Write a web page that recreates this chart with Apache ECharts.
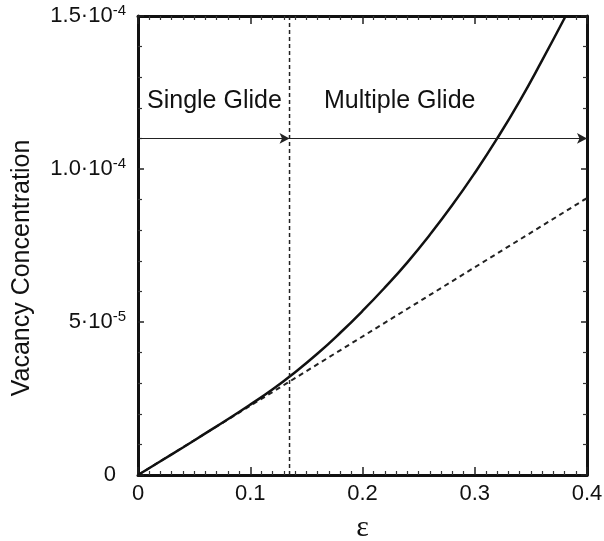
<!DOCTYPE html>
<html>
<head>
<meta charset="utf-8">
<script src="https://cdn.jsdelivr.net/npm/echarts@6/dist/echarts.min.js"></script>
<style>
  html, body { margin: 0; padding: 0; background: #fff; }
  #chart { width: 604px; height: 541px; }
</style>
</head>
<body>
<div id="chart"></div>
<script>
// strain values and vacancy concentration (units of 1e-5)
const strain = [0, 0.02, 0.04, 0.06, 0.08, 0.10, 0.12, 0.14, 0.16, 0.18, 0.20, 0.22, 0.24, 0.26, 0.28, 0.30, 0.32, 0.34, 0.36, 0.381];
const vacancyMultiple = [0, 0.45, 0.9, 1.36, 1.82, 2.3, 2.8, 3.36, 3.97, 4.64, 5.36, 6.13, 6.95, 7.85, 8.82, 9.87, 11.0, 12.22, 13.55, 15.0];
const strainSingle = [0, 0.4];
const vacancySingle = [0, 9.05];
const glideBoundary = 0.135;
const arrowLevel = 11.0;
const regionLabels = ["Single Glide", "Multiple Glide"];
const yTickValues = [0, 5, 10, 15];
const yTickMantissa = ["0", "5·10", "1.0·10", "1.5·10"];
const yTickExponent = ["", "-5", "-4", "-4"];
const xTitle = "ε";
const yTitle = "Vacancy Concentration";

const scale = 1e-5;
const font = "Liberation Sans, Arial, sans-serif";

const yLabel = (v) => {
  const i = yTickValues.findIndex((t) => Math.abs(t * scale - v) < 1e-9);
  if (i < 0) return "";
  if (!yTickExponent[i]) return "{z|" + yTickMantissa[i] + "}";
  return "{m|" + yTickMantissa[i] + "}{s|" + yTickExponent[i] + "}";
};

const chart = echarts.init(document.getElementById("chart"));

const frameAxis = {
  axisLine: { show: true, onZero: false, lineStyle: { color: "#111", width: 3 } },
  axisTick: { show: true, inside: true, length: 8, lineStyle: { color: "#222", width: 1.5 } },
  minorTick: { show: true, length: 4, lineStyle: { color: "#333", width: 1.2 } },
  splitLine: { show: false },
};

const option = {
  animation: false,
  backgroundColor: "#fff",
  grid: { left: 138, right: 17, top: 16, bottom: 66, outerBoundsMode: "none", containLabel: false },
  xAxis: [
    Object.assign({}, frameAxis, {
      type: "value",
      min: 0,
      max: 0.4,
      interval: 0.1,
      minorTick: Object.assign({}, frameAxis.minorTick, { splitNumber: 10 }),
      axisLabel: {
        color: "#111",
        fontFamily: font,
        fontSize: 22,
        margin: 8,
        formatter: (v) => (v === 0 ? "0" : v.toFixed(1)),
      },
      name: xTitle,
      nameLocation: "middle",
      nameGap: 38,
      nameTextStyle: { fontFamily: "Liberation Serif, serif", fontSize: 30, color: "#111" },
    }),
    Object.assign({}, frameAxis, {
      type: "value",
      position: "top",
      min: 0,
      max: 0.4,
      interval: 0.1,
      minorTick: Object.assign({}, frameAxis.minorTick, { splitNumber: 10 }),
      axisLabel: { show: false },
    }),
  ],
  yAxis: [
    Object.assign({}, frameAxis, {
      type: "value",
      min: 0,
      max: 15 * scale,
      interval: 5 * scale,
      minorTick: Object.assign({}, frameAxis.minorTick, { splitNumber: 5 }),
      axisTick: Object.assign({}, frameAxis.axisTick, { length: 6 }),
      axisLabel: {
        color: "#111",
        fontFamily: font,
        margin: 12,
        formatter: yLabel,
        rich: {
          z: { fontFamily: font, fontSize: 22, color: "#111", padding: [0, 10, 0, 0] },
          m: { fontFamily: font, fontSize: 22, color: "#111" },
          s: { fontFamily: font, fontSize: 15, color: "#111", verticalAlign: "top", padding: [0, 0, 10, 0] },
        },
      },
    }),
    Object.assign({}, frameAxis, {
      type: "value",
      position: "right",
      min: 0,
      max: 15 * scale,
      interval: 5 * scale,
      minorTick: Object.assign({}, frameAxis.minorTick, { splitNumber: 5 }),
      axisTick: Object.assign({}, frameAxis.axisTick, { length: 6 }),
      axisLabel: { show: false },
    }),
  ],
  graphic: [
    {
      type: "text",
      x: 22,
      y: 268,
      rotation: Math.PI / 2,
      style: {
        text: yTitle,
        fontFamily: font,
        fontSize: 25,
        fill: "#111",
        textAlign: "center",
        textVerticalAlign: "middle",
      },
    },
    {
      type: "text",
      x: 147,
      y: 101,
      style: { text: regionLabels[0], fontFamily: font, fontSize: 25, fill: "#111", textVerticalAlign: "middle" },
    },
    {
      type: "text",
      x: 324,
      y: 101,
      style: { text: regionLabels[1], fontFamily: font, fontSize: 25, fill: "#111", textVerticalAlign: "middle" },
    },
  ],
  series: [
    {
      name: "Single glide extrapolation",
      type: "line",
      showSymbol: false,
      data: strainSingle.map((x, i) => [x, vacancySingle[i] * scale]),
      lineStyle: { color: "#222", width: 2, type: [5, 4] },
    },
    {
      name: "Multiple glide",
      type: "line",
      smooth: true,
      showSymbol: false,
      data: strain.map((x, i) => [x, vacancyMultiple[i] * scale]),
      lineStyle: { color: "#111", width: 2.5 },
    },
    {
      name: "Boundary",
      type: "line",
      showSymbol: false,
      data: [[glideBoundary, 0], [glideBoundary, 15 * scale]],
      lineStyle: { color: "#222", width: 1.5, type: [4, 3] },
      markLine: {
        silent: true,
        symbolSize: [8, 10],
        label: { show: false },
        lineStyle: { color: "#222", width: 1.2, type: "solid" },
        data: [
          [
            { coord: [0, arrowLevel * scale], symbol: "none" },
            { coord: [glideBoundary, arrowLevel * scale], symbol: "arrow" },
          ],
          [
            { coord: [glideBoundary, arrowLevel * scale], symbol: "none" },
            { coord: [0.4, arrowLevel * scale], symbol: "arrow" },
          ],
        ],
      },
    },
  ],
};

chart.setOption(option);
</script>
</body>
</html>
